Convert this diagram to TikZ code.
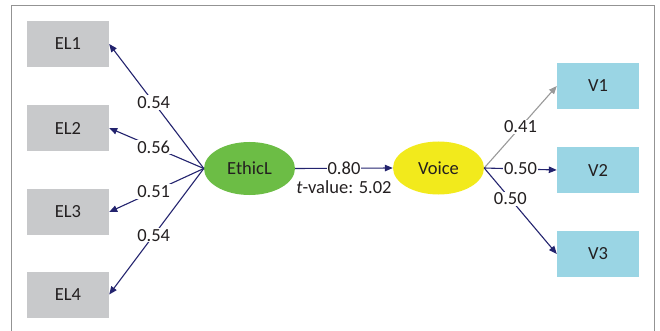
\documentclass[tikz,border=0pt]{standalone}
\usepackage{fontspec}
\setmainfont{Carlito}
\usetikzlibrary{shapes.geometric, arrows.meta, positioning}
\definecolor{boxgray}{HTML}{C8C9CB}
\definecolor{ethicgreen}{HTML}{6CBD45}
\definecolor{voiceyellow}{HTML}{F2EA1C}
\definecolor{vblue}{HTML}{9AD5E4}
\definecolor{arrownavy}{HTML}{23236E}
\definecolor{textdark}{HTML}{231F20}
\tikzset{
 indicator/.style={rectangle, minimum width=82pt, minimum height=46pt, inner sep=0pt},
 latent/.style={ellipse, minimum width=91pt, minimum height=53pt, inner sep=0pt},
 loading/.style={draw=arrownavy, line width=1.1pt, -{Triangle[length=8pt, width=6.5pt]}},
 coef/.style={fill=white, inner sep=1pt, text=textdark}
}
\begin{document}
\begin{tikzpicture}[x=1pt, y=-1pt, font=\fontsize{18.5}{21}\selectfont, text=textdark]
 \useasboundingbox (0,0) rectangle (660,331);
 \draw[color=gray!85, line width=1pt] (11,331) -- (11,6) -- (654,6) -- (654,331);
 % measurement items
 \node[indicator, fill=boxgray] (el1) at (68,44) {EL1};
 \node[indicator, fill=boxgray] (el2) at (68,128) {EL2};
 \node[indicator, fill=boxgray] (el3) at (68,212) {EL3};
 \node[indicator, fill=boxgray] (el4) at (68,294.5) {EL4};
 \node[indicator, fill=vblue] (v1) at (598,86) {V1};
 \node[indicator, fill=vblue] (v2) at (598,170) {V2};
 \node[indicator, fill=vblue] (v3) at (598,254) {V3};
 % latent variables
 \node[latent, fill=ethicgreen] (ethic) at (249.5,168.5) {EthicL};
 \node[latent, fill=voiceyellow] (voice) at (438.5,168) {Voice};
 % loadings
 \draw[loading] (ethic.west) -- node[coef, pos=0.53] {0.54} (el1.east);
 \draw[loading] (ethic.west) -- node[coef, pos=0.53] {0.56} (el2.east);
 \draw[loading] (ethic.west) -- node[coef, pos=0.53] {0.51} (el3.east);
 \draw[loading] (ethic.west) -- node[coef, pos=0.53] {0.54} (el4.east);
 \draw[loading] (ethic.east) -- node[coef] (path) {0.80} (voice.west);
 \node[below=3pt of path, inner sep=1pt] (tval) {\textit{t}-value: 5.02};
 \draw[loading, draw=gray!80] (voice.east) -- node[coef] {0.41} (v1.west);
 \draw[loading] (voice.east) -- node[coef] {0.50} (v2.west);
 \draw[loading] (voice.east) -- node[coef, pos=0.36] {0.50} (v3.west);
\end{tikzpicture}
\end{document}
